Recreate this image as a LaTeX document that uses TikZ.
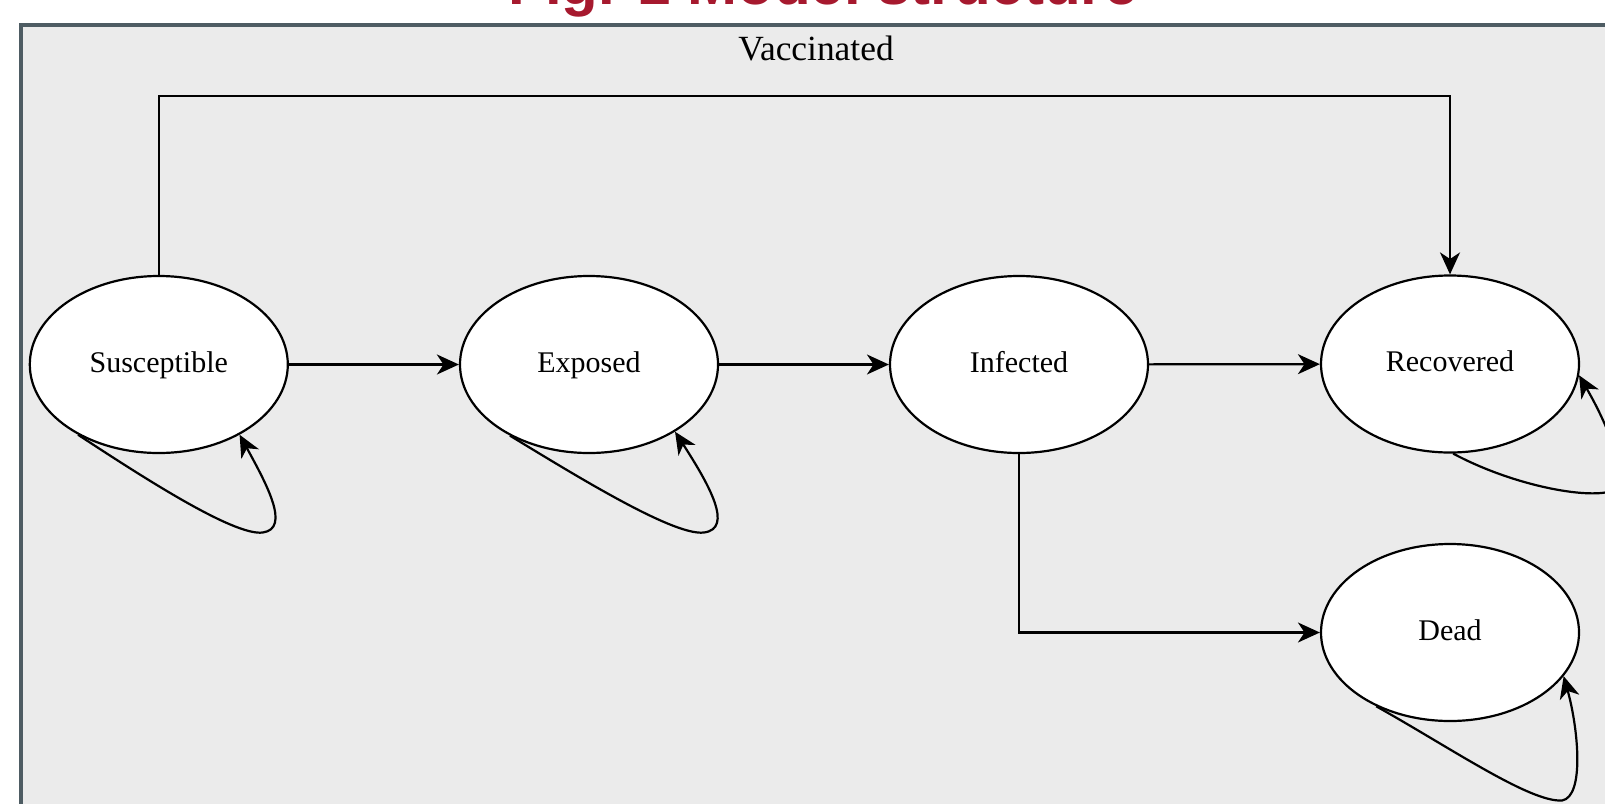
\documentclass[tikz,border=0pt]{standalone}
\usepackage{fontspec}
\setmainfont{Liberation Serif}
\newfontfamily\titlefont{Liberation Sans}
\usetikzlibrary{shapes.geometric,arrows.meta,calc}
\definecolor{panelfill}{RGB}{235,235,235}
\definecolor{panelborder}{RGB}{78,92,99}
\definecolor{titlered}{RGB}{166,25,46}
\begin{document}
\begin{tikzpicture}[x=0.5pt,y=-0.5pt,
  state/.style={ellipse, draw=black, line width=1.1pt, fill=white,
    minimum width=129pt, minimum height=88.5pt, inner sep=0pt,
    text height=0.78em, text depth=0pt,
    font=\fontsize{15}{18}\selectfont},
  arr/.style={draw=black, line width=1.1pt, line join=miter,
    -{Stealth[length=11pt,width=10pt,inset=3.3pt]}},
  titlelbl/.style={anchor=base, inner sep=0pt, text=titlered,
    font=\titlefont\bfseries\fontsize{30}{36}\selectfont},
  panellbl/.style={anchor=base, inner sep=0pt,
    font=\fontsize{17.7}{21}\selectfont},
]
\clip (0,0) rectangle (1605,803);
\fill[white] (0,0) rectangle (1605,803);
\fill[panelfill] (21.3,24.7) rectangle (1640,840);
\draw[panelborder, line width=2pt, line join=miter] (21.3,840) -- (21.3,24.7) -- (1640,24.7);

\node[titlelbl] (title) at (823,4) {Fig. 1 Model structure};
\node[panellbl] (vacc) at (816,60.5) {Vaccinated};

\node[state] (S) at (158.8,364.5) {Susceptible};
\node[state] (E) at (589,364.5) {Exposed};
\node[state] (I) at (1019,364.5) {Infected};
\node[state] (R) at (1450,364) {Recovered};
\node[state] (D) at (1450,632.5) {Dead};

\coordinate (top) at (800,96);

\draw[arr] (S) -- (E);
\draw[arr] (E) -- (I);
\draw[arr] (I) -- (R);
\draw[arr] (S.north) |- (top) -| (R.north);
\draw[arr] (I.south) |- (D.west);

% self loops
\draw[arr] (S.221) .. controls ($(S)+(-20,110)$) and ($(S)+(75,172)$) ..
  ($(S)+(104,168)$) .. controls ($(S)+(132,164)$) and ($(S)+(108,120)$) .. (S.319);
\draw[arr] (E.222) .. controls ($(E)+(-15,110)$) and ($(E)+(85,172)$) ..
  ($(E)+(115,168)$) .. controls ($(E)+(145,164)$) and ($(E)+(120,120)$) .. (E.322);
\draw[arr] (R.272) .. controls ($(R)+(60,120)$) and ($(R)+(130,134)$) ..
  ($(R)+(158,128)$) .. controls ($(R)+(182,120)$) and ($(R)+(160,65)$) .. (R.355);
\draw[arr] (D.225) .. controls ($(D)+(0,115)$) and ($(D)+(80,170)$) ..
  ($(D)+(112,168)$) .. controls ($(D)+(135,164)$) and ($(D)+(128,95)$) .. (D.339);
\end{tikzpicture}
\end{document}
